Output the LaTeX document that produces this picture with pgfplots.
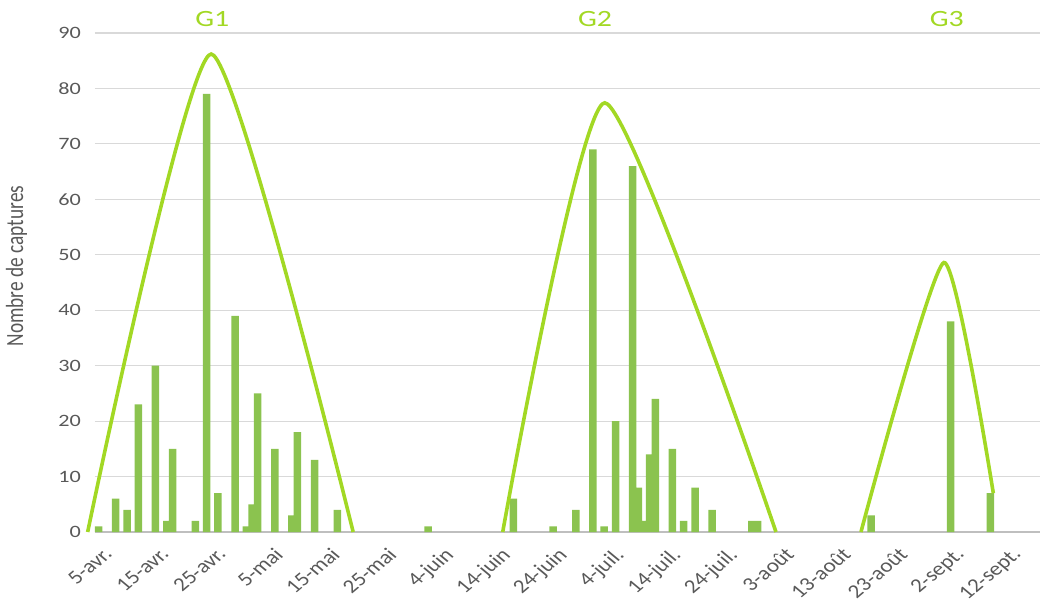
\documentclass[border=0pt]{standalone}
\usepackage{fontspec}
\setmainfont{Carlito}
\newfontfamily\wide[FakeStretch=1.28]{Carlito}
\usepackage{pgfplots}
\pgfplotsset{compat=1.18}
\definecolor{barg}{HTML}{8BC34F}
\definecolor{curveg}{HTML}{A2D824}
\definecolor{gridg}{HTML}{D9D9D9}
\definecolor{axisg}{HTML}{BFBFBF}
\definecolor{txt}{HTML}{595959}
\begin{document}
\begin{tikzpicture}
\begin{axis}[
  scale only axis, width=708.75pt, height=374.25pt,
  xmin=-0.65, xmax=165.72, ymin=0, ymax=90,
  axis line style={draw=none},
  tick style={draw=none},
  ymajorgrids, grid style={gridg, line width=0.9pt},
  extra y ticks={0}, extra y tick labels={},
  extra y tick style={grid style={axisg, line width=1pt}},
  ytick={0,10,...,90},
  xtick={0,10,...,160},
  xticklabels={5-avr.,15-avr.,25-avr.,5-mai,15-mai,25-mai,4-juin,14-juin,24-juin,4-juil.,14-juil.,24-juil.,3-août,13-août,23-août,2-sept.,12-sept.},
  /pgf/number format/assume math mode=true,
  xticklabel style={xscale=1.2, rotate=45, anchor=north east, font=\fontsize{14.5}{16}\selectfont, text=txt, xshift=-2.5pt, yshift=-6pt},
  yticklabel style={font=\wide\fontsize{13}{15}\selectfont, text=txt, xshift=-7pt},
  ylabel={Nombre de captures},
  every axis y label/.style={at={(axis description cs:-0.083,0.533)}, anchor=center, xscale=1.28, rotate=90, font=\fontsize{14.5}{16}\selectfont, text=txt},
  clip=false,
]
\addplot[ybar, bar width=1.32, fill=barg, draw=none] coordinates {
(0,1) (3,6) (5,4) (7,23) (10,30) (12,2) (13,15) (17,2) (19,79) (21,7)
(24,39) (26,1) (27,5) (28,25) (31,15) (34,3) (35,18) (38,13) (42,4)
(58,1) (73,6) (80,1) (84,4) (87,69) (89,1) (91,20) (94,66) (95,8)
(96,2) (97,14) (98,24) (101,15) (103,2) (105,8) (108,4) (115,2) (116,2)
(136,3) (150,38) (157,7)
};
\addplot[curveg, line width=2.7pt, smooth, tension=0.333, no markers] coordinates {
(-1.94,0) (19.8,86.2) (44.8,0)
};
\addplot[curveg, line width=2.7pt, smooth, tension=0.333, no markers] coordinates {
(71.13,0) (89.1,77.4) (119.24,0)
};
\addplot[curveg, line width=2.7pt, smooth, tension=0.333, no markers] coordinates {
(134.2,0) (148.8,48.6) (157.5,7)
};
\node[text=curveg, font=\wide\fontsize{17.5}{20}\selectfont] at (axis cs:20.0,92.6) {G1};
\node[text=curveg, font=\wide\fontsize{17.5}{20}\selectfont] at (axis cs:87.4,92.6) {G2};
\node[text=curveg, font=\wide\fontsize{17.5}{20}\selectfont] at (axis cs:149.3,92.6) {G3};
\end{axis}
\pgfresetboundingbox
\path[use as bounding box] ([shift={(-71.25pt,-54pt)}]current axis.south west) rectangle ([shift={(2.25pt,24.75pt)}]current axis.north east);
\end{tikzpicture}
\end{document}
